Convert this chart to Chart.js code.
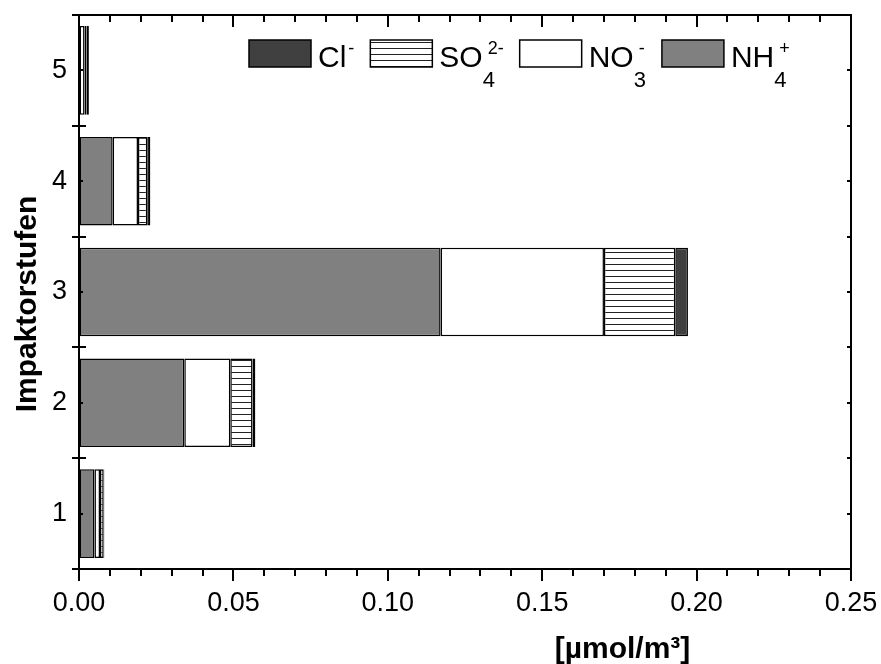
<!DOCTYPE html>
<html>
<head>
<meta charset="utf-8">
<script src="https://cdn.jsdelivr.net/npm/chart.js@4.4.1/dist/chart.umd.min.js"></script>
<style>
  html, body { margin: 0; padding: 0; background: #fff; }
  #wrap { width: 881px; height: 664px; }
</style>
</head>
<body>
<div id="wrap"><canvas id="c" width="881" height="664"></canvas></div>
<script>
// ---- data ----
const categories = ['1', '2', '3', '4', '5'];
const nh4 = [0.0050, 0.0341, 0.1171, 0.0109, 0.0000];
const no3 = [0.0018, 0.0149, 0.0529, 0.0082, 0.0018];
const so4 = [0.0012, 0.0072, 0.0231, 0.0030, 0.0006];
const cl  = [0.0002, 0.0009, 0.0041, 0.0010, 0.0008];
const xTickLabels = ['0.00', '0.05', '0.10', '0.15', '0.20', '0.25'];
const xMin = 0, xMax = 0.25, xMajorStep = 0.05, xMinorStep = 0.01;
const yTitle = 'Impaktorstufen';
const xTitle = '[µmol/m³]';
const legendItems = [
  { main: 'Cl', sub: '', sup: '-', key: 'cl' },
  { main: 'SO', sub: '4', sup: '2-', key: 'so4' },
  { main: 'NO', sub: '3', sup: '-', key: 'no3' },
  { main: 'NH', sub: '4', sup: '+', key: 'nh4' }
];

const FONT = "'Liberation Sans', Arial, Helvetica, sans-serif";
const COL_NH4 = '#808080';
const COL_NO3 = '#ffffff';
const COL_CL = '#404040';

function makeLinePattern() {
  const pc = document.createElement('canvas');
  pc.width = 8; pc.height = 6;
  const p = pc.getContext('2d');
  p.fillStyle = '#fff';
  p.fillRect(0, 0, 8, 6);
  p.fillStyle = '#222';
  p.fillRect(0, 0, 8, 1);
  return document.getElementById('c').getContext('2d').createPattern(pc, 'repeat');
}
const so4Pattern = makeLinePattern();
const fills = { cl: COL_CL, so4: so4Pattern, no3: COL_NO3, nh4: COL_NH4 };

const decor = {
  id: 'decor',
  afterDraw(chart) {
    const ctx = chart.ctx;
    const { left, right, top, bottom } = chart.chartArea;
    const x = chart.scales.x, y = chart.scales.y;
    ctx.save();
    ctx.strokeStyle = '#000';
    ctx.lineWidth = 2;
    ctx.strokeRect(left, top, right - left, bottom - top);
    ctx.beginPath();
    const nMinor = Math.round((xMax - xMin) / xMinorStep);
    const perMajor = Math.round(xMajorStep / xMinorStep);
    for (let i = 0; i <= nMinor; i++) {
      const px = Math.round(x.getPixelForValue(xMin + i * xMinorStep));
      const len = (i % perMajor === 0) ? 12 : 7;
      ctx.moveTo(px, bottom); ctx.lineTo(px, bottom + len);
      ctx.moveTo(px, top); ctx.lineTo(px, top + len);
    }
    for (let i = 0; i <= categories.length; i++) {
      const py = Math.round(y.getPixelForValue(i - 0.5));
      ctx.moveTo(left - 7, py); ctx.lineTo(left + 7, py);
      ctx.moveTo(right, py); ctx.lineTo(right - 4, py);
      if (i < categories.length) {
        const pc = Math.round(y.getPixelForValue(i));
        ctx.moveTo(left, pc); ctx.lineTo(left + 4, pc);
        ctx.moveTo(right, pc); ctx.lineTo(right - 4, pc);
      }
    }
    ctx.stroke();

    // axis titles
    ctx.fillStyle = '#000';
    ctx.font = 'bold 30px ' + FONT;
    ctx.textAlign = 'center';
    ctx.textBaseline = 'alphabetic';
    ctx.fillText(xTitle, left + (right - left) * 0.704, 658);
    ctx.save();
    ctx.translate(36, (top + bottom) / 2 + 12);
    ctx.rotate(-Math.PI / 2);
    ctx.fillText(yTitle, 0, 0);
    ctx.restore();

    // legend
    let lx = 249;
    const by = 40, bw = 62, bh = 27, base = 67;
    ctx.textAlign = 'left';
    ctx.lineWidth = 1.5;
    legendItems.forEach(item => {
      ctx.fillStyle = fills[item.key];
      ctx.fillRect(lx, by, bw, bh);
      ctx.strokeStyle = '#000';
      ctx.strokeRect(lx, by, bw, bh);
      let tx = lx + bw + 7;
      ctx.fillStyle = '#000';
      ctx.font = '30px ' + FONT;
      ctx.fillText(item.main, tx, base);
      tx += ctx.measureText(item.main).width + 1;
      let end = tx;
      if (item.sub) {
        ctx.font = '22px ' + FONT;
        ctx.fillText(item.sub, tx - 1, base + 20);
        end = Math.max(end, tx - 1 + ctx.measureText(item.sub).width);
      }
      if (item.sup) {
        ctx.font = '18px ' + FONT;
        const sx = item.sub ? tx + 4 : tx + 1;
        ctx.fillText(item.sup, sx, base - 13);
        end = Math.max(end, sx + ctx.measureText(item.sup).width);
      }
      lx = end + 16;
    });
    ctx.restore();
  }
};

const common = { borderColor: '#000', borderWidth: 1.5, borderSkipped: false,
  barPercentage: 0.8, categoryPercentage: 1.0 };

new Chart(document.getElementById('c'), {
  type: 'bar',
  data: {
    labels: categories,
    datasets: [
      Object.assign({ label: 'NH4+', data: nh4, backgroundColor: COL_NH4 }, common),
      Object.assign({ label: 'NO3-', data: no3, backgroundColor: COL_NO3 }, common),
      Object.assign({ label: 'SO42-', data: so4, backgroundColor: so4Pattern }, common),
      Object.assign({ label: 'Cl-', data: cl, backgroundColor: COL_CL }, common)
    ]
  },
  options: {
    indexAxis: 'y',
    responsive: false,
    animation: false,
    devicePixelRatio: 1,
    layout: { padding: { left: 0, top: 15, right: 30, bottom: 0 } },
    plugins: { legend: { display: false }, tooltip: { enabled: false } },
    scales: {
      x: {
        type: 'linear', stacked: true, min: xMin, max: xMax,
        afterFit(s) { s.height = 95; s.paddingLeft = 0; s.paddingRight = 0; },
        afterBuildTicks(s) { s.ticks = xTickLabels.map(t => ({ value: parseFloat(t) })); },
        ticks: {
          stepSize: xMajorStep, padding: 6, color: '#000', maxRotation: 0,
          font: { family: FONT, size: 27 },
          callback: (v, i) => xTickLabels[i]
        },
        grid: { display: true, drawOnChartArea: false, drawTicks: true, tickLength: 12, color: 'rgba(0,0,0,0)' },
        border: { display: false }
      },
      y: {
        type: 'category', stacked: true, reverse: true,
        afterFit(s) { s.width = 79; s.paddingTop = 0; s.paddingBottom = 0; },
        ticks: { padding: 12, color: '#000', font: { family: FONT, size: 27 } },
        grid: { display: true, drawOnChartArea: false, drawTicks: false, color: 'rgba(0,0,0,0)' },
        border: { display: false }
      }
    }
  },
  plugins: [decor]
});
</script>
</body>
</html>
